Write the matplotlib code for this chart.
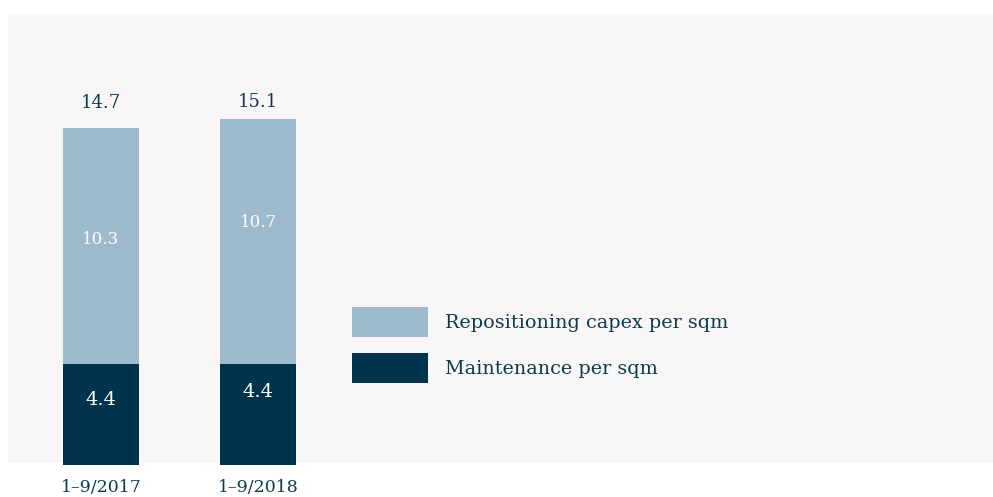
import matplotlib.pyplot as plt
from matplotlib.patches import Rectangle, Patch

# capex per sqm, two reporting periods
periods = ['1–9/2017', '1–9/2018']
maintenance = [4.4, 4.4]
repositioning = [10.3, 10.7]
totals = [14.7, 15.1]
series_names = ['Repositioning capex per sqm', 'Maintenance per sqm']

dark = '#00344d'
light = '#9dbbcd'
text_col = '#0d3a52'
panel_col = '#f8f6f7'

plt.rcParams['font.family'] = ['DejaVu Serif']

W, H = 993, 497
fig = plt.figure(figsize=(W / 100, H / 100), dpi=100)
fig.patch.set_facecolor('white')

# background panel (in pixels from top-left)
fig.patches.append(Rectangle((8 / W, 1 - 463 / H), (W - 8) / W, (463 - 14) / H,
                             transform=fig.transFigure, facecolor=panel_col,
                             edgecolor='none', zorder=-5))

ax = fig.add_axes([8 / W, 1 - 465 / H, (W - 8) / W, (465 - 14) / H])
ax.set_zorder(2)
ax.patch.set_alpha(0)
px_per_unit = 22.9
step = 157
ax.set_ylim(0, 451 / px_per_unit)
ax.set_xlim(-93 / step, -93 / step + 985 / step)

x = list(range(len(periods)))
width = 76 / step
ax.bar(x, maintenance, width, color=dark, zorder=2)
ax.bar(x, repositioning, width, bottom=maintenance, color=light, zorder=2)

# segment labels, placed a bit above the segment middle
rep_pos = [0.53, 0.58]
mnt_pos = [0.65, 0.72]
for i in x:
    ax.text(i, maintenance[i] * mnt_pos[i], f'{maintenance[i]:.1f}', color='white',
            ha='center', va='center', fontsize=14)
    ax.text(i, maintenance[i] + repositioning[i] * rep_pos[i], f'{repositioning[i]:.1f}',
            color='white', ha='center', va='center', fontsize=12)
top_pad = [25, 17]
for i in x:
    ax.annotate(f'{totals[i]:.1f}', (i, totals[i]), xytext=(0, top_pad[i]),
                textcoords='offset pixels', ha='center', va='center',
                color=text_col, fontsize=13)

ax.set_xticks(x)
ax.set_xticklabels(periods, color=text_col, fontsize=12.5)
ax.tick_params(axis='x', length=0, pad=10)
ax.set_yticks([])
for s in ax.spines.values():
    s.set_visible(False)

# legend: 76x30 px swatches, 16 px apart
fs = 13.8
fs_px = fs * 100 / 72
hh = (30 / fs_px - 0.245) / 0.65
handles = [Patch(facecolor=light, edgecolor='none'), Patch(facecolor=dark, edgecolor='none')]
fig.legend(handles, series_names, loc='upper left',
           bbox_to_anchor=(352 / W, 1 - 307 / H), frameon=False, fontsize=fs,
           handlelength=76 / fs_px, handleheight=hh,
           handletextpad=17 / fs_px, labelspacing=16 / fs_px,
           borderpad=0, borderaxespad=0, labelcolor=text_col)

fig.savefig('out.png', dpi=100, facecolor='white')
